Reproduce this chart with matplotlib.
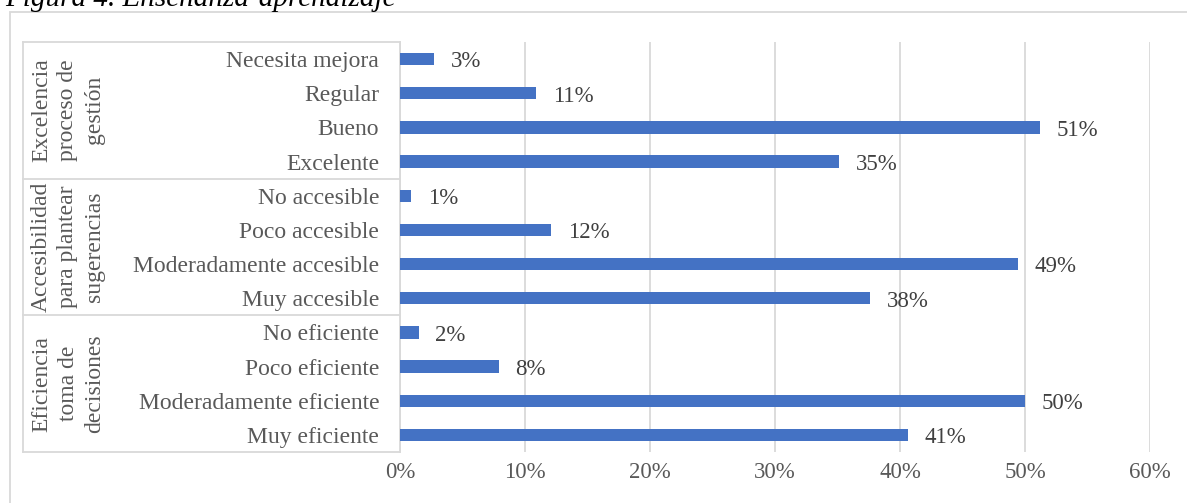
import numpy as np
import matplotlib.pyplot as plt
from matplotlib.patches import Rectangle

plt.rcParams['font.family'] = ['Liberation Serif', 'DejaVu Serif']

# categories from top to bottom
categorias = ['Necesita mejora', 'Regular', 'Bueno', 'Excelente',
              'No accesible', 'Poco accesible', 'Moderadamente accesible', 'Muy accesible',
              'No eficiente', 'Poco eficiente', 'Moderadamente eficiente', 'Muy eficiente']
porcentajes = [2.7, 10.9, 51.2, 35.1,
               0.9, 12.1, 49.4, 37.6,
               1.5, 7.9, 50.0, 40.6]
grupos = ['Excelencia\nproceso de\ngestión',
          'Accesibilidad\npara plantear\nsugerencias',
          'Eficiencia\ntoma de\ndecisiones']
por_grupo = 4
xticks = [0, 10, 20, 30, 40, 50, 60]

azul = '#4472C4'
gris = '#D9D9D9'
texto = '#595959'

W, H = 1187, 503
fig = plt.figure(figsize=(W / 100, H / 100), dpi=100)

# outer frame of the chart
fig.patches.append(Rectangle((10 / W, -0.2), 1.2, 1.2 - 12 / H, transform=fig.transFigure,
                             fill=False, edgecolor=gris, lw=1.3))

fig.text(5 / W, 1 - 6 / H, 'Figura 4. Enseñanza-aprendizaje', fontsize=21, style='italic',
         ha='left', va='baseline', color='black')

ax = fig.add_axes([400 / W, 1 - 452 / H, 750 / W, 410 / H])

y = np.arange(len(categorias))
ax.barh(y, porcentajes, height=0.36, color=azul, zorder=3)
for yi, v in zip(y, porcentajes):
    ax.annotate(f'{v:.0f}%', (v, yi), xytext=(12, -2), textcoords='offset points',
                ha='left', va='center', fontsize=16.5, color='#404040')

ax.set_xlim(0, 60)
ax.set_ylim(len(categorias) - 0.5, -0.5)
ax.set_xticks(xticks)
ax.set_xticklabels([f'{t}%' for t in xticks], fontsize=16.5, color=texto)
ax.set_yticks(y)
ax.set_yticklabels(categorias, fontsize=17, color=texto)
ax.tick_params(axis='y', length=0, pad=15)
ax.tick_params(axis='x', length=0, pad=7)
ax.grid(axis='x', color=gris, lw=1.3, zorder=0)
for s in ['top', 'right', 'bottom']:
    ax.spines[s].set_visible(False)
ax.spines['left'].set_color(gris)
ax.spines['left'].set_linewidth(1.3)

# group table on the left
tr = ax.get_yaxis_transform()
x_tabla = (23 - 400) / 750
for k in range(len(grupos) + 1):
    yb = k * por_grupo - 0.5
    ax.plot([x_tabla, 0], [yb, yb], transform=tr, color=gris, lw=1.3, clip_on=False)
ax.plot([x_tabla, x_tabla], [-0.5, len(categorias) - 0.5], transform=tr, color=gris, lw=1.3,
        clip_on=False)
for k, g in enumerate(grupos):
    yc = k * por_grupo + (por_grupo - 1) / 2
    ax.text((68 - 400) / 750, yc, g, transform=tr, rotation=90, ha='center', va='center',
            multialignment='center', fontsize=17, color=texto, linespacing=1.35)

fig.savefig('out.png', dpi=100)
